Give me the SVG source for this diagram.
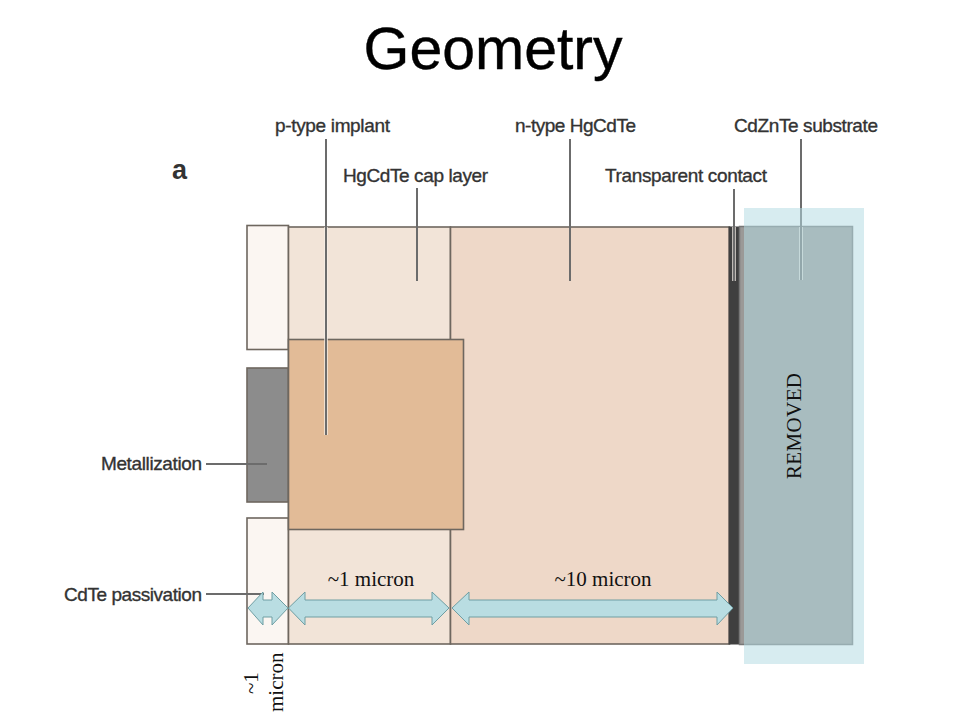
<svg xmlns="http://www.w3.org/2000/svg" width="960" height="720" viewBox="0 0 960 720">
<style>
.l{font-family:"Liberation Sans",Arial,sans-serif;font-size:19px;fill:#333;stroke:#333;stroke-width:.35px}
.t{font-family:"Liberation Serif","Times New Roman",serif;font-size:21px;fill:#111}
.b{stroke:#6e675f;stroke-width:1.6}
.c{fill:none;stroke:#6c6c6c;stroke-width:2}
.h{fill:none;stroke:#f6efe8;stroke-width:4;stroke-opacity:.7}
.a{fill:#b9dde2;stroke:#6f9ea3;stroke-width:1}
</style>
<rect width="960" height="720" fill="#fff"/>
<text x="493" y="69" text-anchor="middle" font-family="Liberation Sans,Arial,sans-serif" font-size="59" fill="#000" stroke="#000" stroke-width=".4">Geometry</text>
<text x="172" y="179" font-family="Liberation Sans,Arial,sans-serif" font-size="27" font-weight="bold" fill="#333">a</text>
<g id="passivation-top"><rect class="b" x="247" y="225.500" width="41.500" height="124" fill="#fbf6f2"/></g>
<g id="passivation-bottom"><rect class="b" x="247" y="518" width="41.500" height="126" fill="#fbf6f2"/></g>
<g id="metallization"><rect class="b" x="247" y="368" width="41.500" height="134" fill="#8c8c8c"/></g>
<g id="cap-layer"><rect class="b" x="288.500" y="227" width="162" height="417" fill="#f2e4d8"/></g>
<g id="n-type"><rect class="b" x="450.500" y="227" width="279" height="417" fill="#eed8c8"/></g>
<g id="implant"><rect class="b" x="288.500" y="339.500" width="175" height="190" fill="#e2bb97"/></g>
<g id="transparent-contact"><rect x="728.500" y="226.500" width="11" height="418" fill="#3f3f3f"/></g>
<g id="substrate"><rect x="739.500" y="226.500" width="113" height="418" fill="#9b9997" stroke="#777" stroke-width="1.500"/></g>
<g id="connectors">
<path class="h" d="M326 227V435M734 227V281M801 227V280"/>
<path class="c" d="M326 139V435M417 188V281M570 139V281M734 189V281M801 139V280M206 464H267M206 594H264"/>
</g>
<g id="removed"><rect x="744" y="208" width="120" height="456" fill="#b3dbe2" fill-opacity=".53"/>
<text class="t" transform="translate(801 479) rotate(-90)" textLength="106">REMOVED</text></g>
<g id="labels">
<text class="l" x="275" y="131.500" textLength="115">p-type implant</text>
<text class="l" x="343" y="181.500" textLength="145">HgCdTe cap layer</text>
<text class="l" x="515" y="131.500" textLength="121">n-type HgCdTe</text>
<text class="l" x="605" y="181.500" textLength="162">Transparent contact</text>
<text class="l" x="734" y="131.500" textLength="144">CdZnTe substrate</text>
<text class="l" x="101" y="470" textLength="101">Metallization</text>
<text class="l" x="64" y="600.500" textLength="138">CdTe passivation</text>
</g>
<g id="dimensions">
<path class="a" d="M248 608L263 592V600H272V592L288 608L272 625V617H263V625Z"/>
<path class="a" d="M288.500 608L305 592V600H432V592L449 608L432 625V617H305V625Z"/>
<path class="a" d="M452 608L469 592V600H717V592L733 608L717 625V617H469V625Z"/>
<text class="t" x="371" y="586" text-anchor="middle">~1 micron</text>
<text class="t" x="603" y="586" text-anchor="middle">~10 micron</text>
<text class="t" transform="translate(258 694) rotate(-90)">~1</text>
<text class="t" transform="translate(283 712) rotate(-90)">micron</text>
</g>
</svg>
